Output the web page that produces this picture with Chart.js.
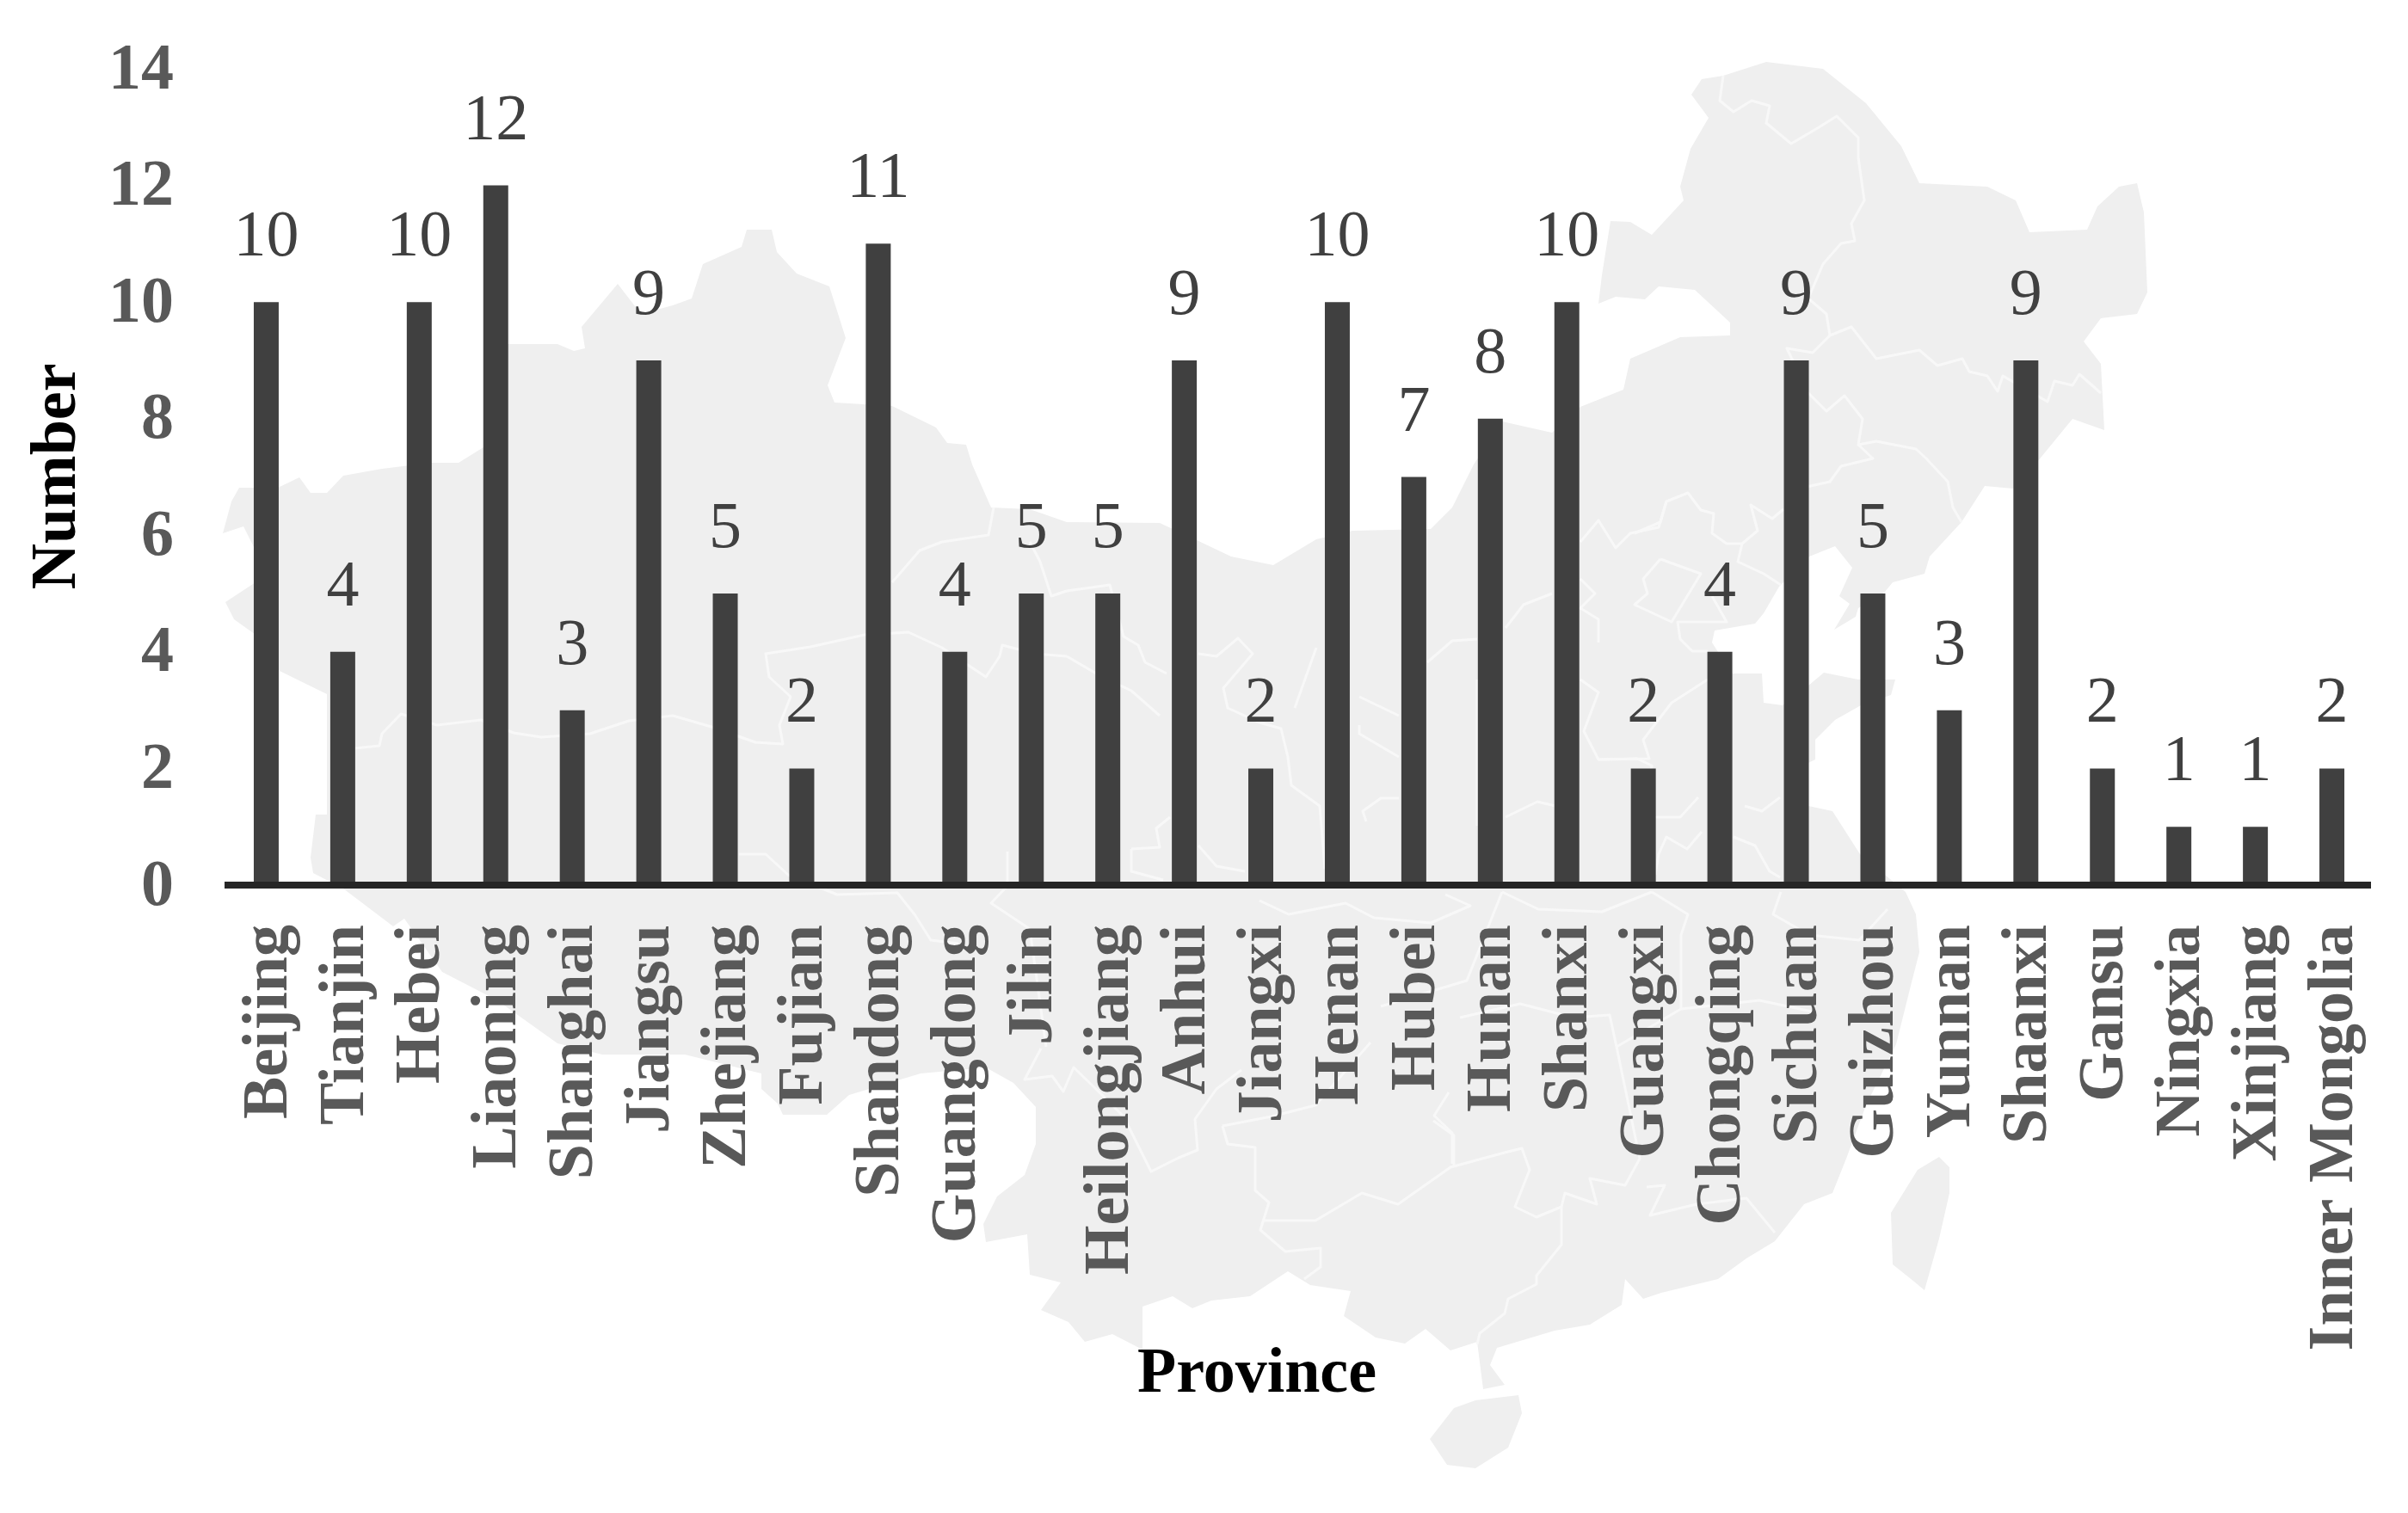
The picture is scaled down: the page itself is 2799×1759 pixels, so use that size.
<!DOCTYPE html>
<html>
<head>
<meta charset="utf-8">
<title>Number by province</title>
<script src="https://cdn.jsdelivr.net/npm/chart.js@4"></script>
<style>
  html, body { margin: 0; padding: 0; background: #fff; }
  canvas { display: block; }
</style>
</head>
<body>
<canvas id="bar-chart" width="2799" height="1759"></canvas>
<script>
// Chart data
var provinces = ["Beijing", "Tianjin", "Hebei", "Liaoning", "Shanghai", "Jiangsu", "Zhejiang", "Fujian",
    "Shandong", "Guangdong", "Jilin", "Heilongjiang", "Anhui", "Jiangxi", "Henan", "Hubei", "Hunan", "Shanxi",
    "Guangxi", "Chongqing", "Sichuan", "Guizhou", "Yunnan", "Shaanxi", "Gansu", "Ningxia", "Xinjiang", "Inner Mongolia"];
var counts = [10, 4, 10, 12, 3, 9, 5, 2, 11, 4, 5, 5, 9, 2, 10, 7, 8, 10, 2, 4, 9, 5, 3, 9, 2, 1, 1, 2];
var yTicks = [0, 2, 4, 6, 8, 10, 12, 14];

// Background map (page pixels), only decoration behind the bars
var mapOutline = [[259,620],[269,583],[278,567],[323,567],[348,555],[361,573],[380,573],[399,553],[444,545],[501,538],[533,538],[562,520],
    [585,400],[648,400],[667,408],[680,405],[676,380],[718,330],[745,365],[782,355],[804,347],[817,307],[862,287],[868,267],[897,267],[903,293],
    [926,318],[964,333],[983,393],[962,448],[970,468],[1037,472],[1088,497],[1101,515],[1123,517],[1130,540],[1152,590],[1197,592],[1240,607],
    [1348,608],[1389,627],[1431,647],[1480,657],[1530,627],[1572,617],[1663,615],[1688,590],[1713,540],[1746,490],[1804,503],[1837,473],
    [1887,453],[1895,417],[1953,392],[2011,390],[2011,375],[1970,337],[1928,333],[1912,348],[1878,345],[1858,353],[1862,320],[1872,257],
    [1895,258],[1920,273],[1957,233],[1953,217],[1965,173],[1986,137],[1966,110],[1978,92],[2003,88],[2053,72],[2119,80],[2169,120],[2210,170],
    [2231,213],[2310,217],[2343,233],[2359,270],[2426,267],[2438,240],[2463,217],[2484,213],[2492,247],[2496,340],[2484,365],[2442,370],
    [2422,397],[2442,423],[2446,500],[2409,487],[2368,537],[2340,568],[2307,565],[2280,607],[2243,647],[2237,667],[2200,677],[2191,688],
    [2160,707],[2157,717],[2132,732],[2150,702],[2138,693],[2153,660],[2133,635],[2103,647],[2068,682],[2050,713],[2040,725],[1993,733],
    [1990,747],[2013,783],[2048,783],[2050,817],[2072,820],[2102,797],[2120,782],[2160,790],[2203,790],[2198,808],[2163,820],[2133,837],
    [2110,860],[2110,883],[2102,887],[2102,937],[2130,943],[2162,993],[2215,1037],[2227,1063],[2231,1107],[2222,1142],[2204,1214],[2169,1285],
    [2146,1347],[2130,1387],[2097,1400],[2063,1443],[2030,1463],[1997,1487],[1931,1503],[1910,1510],[1889,1487],[1885,1517],[1848,1540],
    [1807,1547],[1740,1567],[1732,1587],[1749,1610],[1724,1615],[1717,1560],[1686,1570],[1657,1545],[1633,1562],[1599,1555],[1562,1530],
    [1570,1501],[1523,1494],[1497,1478],[1453,1507],[1408,1512],[1386,1521],[1363,1507],[1328,1519],[1328,1569],[1293,1551],[1261,1560],
    [1242,1537],[1210,1523],[1233,1491],[1197,1482],[1194,1435],[1146,1444],[1143,1423],[1159,1391],[1191,1366],[1204,1330],[1204,1287],
    [1178,1259],[1146,1241],[1070,1248],[987,1273],[961,1296],[910,1296],[904,1283],[885,1266],[885,1248],[796,1226],[700,1226],[648,1213],
    [578,1163],[514,1130],[470,1068],[457,1077],[399,1033],[364,1015],[361,997],[367,947],[380,947],[380,807],[325,780],[300,740],[272,720],
    [262,700],[297,677],[297,640],[283,612]];
var mapTaiwan = [[2254,1345],[2266,1357],[2266,1387],[2254,1440],[2237,1500],[2225,1490],[2200,1470],[2198,1410],[2229,1360]];
var mapHainan = [[1765,1622],[1769,1643],[1753,1683],[1715,1707],[1682,1703],[1662,1673],[1690,1637],[1715,1628]];
var mapBorders = [
    [[2003,88],[1999,117],[2015,130],[2036,117],[2057,123],[2053,143],[2082,167],[2111,150],[2135,135],[2160,160],[2160,183],[2167,233],[2152,260],[2156,280],[2140,283],[2119,307],[2102,347],[2123,365],[2127,390],[2152,380],[2181,417],[2231,407],[2252,425],[2281,417],[2289,432],[2310,437],[2322,455],[2328,437],[2380,467],[2388,443],[2409,448],[2417,435],[2442,457]],
    [[2127,390],[2107,410],[2077,405],[2102,457],[2123,478],[2144,460],[2165,487],[2160,517],[2181,513],[2227,522],[2239,533],[2264,560],[2270,590],[2280,607]],
    [[2160,517],[2177,533],[2140,542],[2127,560],[2100,566]],
    [[1930,650],[1910,673],[1915,690],[1900,703],[1943,723],[1977,667],[1930,650]],
    [[1900,620],[1930,607],[1937,583],[1962,573],[1977,593],[1992,597],[1990,620],[2007,632],[2025,632],[2043,617],[2035,587],[2060,603],[2073,592]],
    [[2025,632],[2020,653],[2050,667],[2070,680]],
    [[1990,693],[2007,723],[1950,723],[1953,743],[1967,757],[1985,757]],
    [[1985,790],[1943,817],[1910,860],[1917,882],[1858,883]],
    [[1240,687],[1290,680],[1306,740],[1323,750],[1331,770],[1356,783]],
    [[1240,763],[1281,787],[1315,803],[1348,832]],
    [[1393,760],[1414,763],[1439,742],[1456,760],[1422,800],[1427,823],[1464,840],[1489,847],[1497,880],[1501,913],[1534,937],[1540,1010]],
    [[1505,823],[1530,753]],
    [[1580,810],[1626,832]],
    [[1580,843],[1580,853],[1626,880]],
    [[1659,770],[1688,745],[1717,743]],
    [[1750,730],[1771,703],[1804,690]],
    [[1837,673],[1854,690],[1837,707],[1858,720],[1858,747]],
    [[1717,790],[1717,960]],
    [[1837,790],[1858,805],[1841,850],[1858,883],[1903,882],[1920,890],[1910,960]],
    [[1837,630],[1858,605],[1878,637],[1895,620],[1928,613],[1937,583]],
    [[1588,955],[1584,943],[1605,928],[1626,928]],
    [[1750,950],[1787,932],[1808,937]],
    [[1315,987],[1348,985],[1344,963],[1360,950]],
    [[1315,987],[1315,1013],[1352,1023]],
    [[1393,983],[1414,1007],[1447,1013]],
    [[1974,927],[1953,950],[1924,950]],
    [[1978,967],[1961,987],[1937,973],[1928,993],[1924,1017]],
    [[2015,973],[2040,983],[2057,1013],[2069,1020]],
    [[2028,937],[2048,943],[2069,927]],
    [[412,870],[441,867],[444,853],[466,830],[508,843],[559,837],[597,852],[629,857],[686,853],[731,838],[782,832],[827,845],[878,863],[910,865],[906,843],[919,810],[894,787],[890,760],[942,752],[1005,738],[1056,735],[1095,753],[1146,787],[1162,763],[1165,750],[1203,760],[1240,763]],
    [[1037,677],[1069,640],[1095,630],[1149,622],[1155,590]],
    [[1197,630],[1209,653],[1222,693],[1240,687]],
    [[859,993],[890,993],[916,1017],[973,1040],[1043,1038],[1063,1063],[1082,1093],[1114,1097]],
    [[1171,990],[1171,1030],[1152,1050],[1197,1080],[1216,1217]],
    [[1210,1219],[1191,1255],[1223,1251],[1236,1269],[1248,1241],[1277,1269],[1306,1298],[1338,1362],[1370,1346],[1392,1337],[1389,1301],[1414,1266],[1443,1244]],
    [[1421,1309],[1478,1298],[1529,1285],[1593,1212]],
    [[1421,1309],[1427,1330],[1459,1334],[1459,1384],[1475,1398],[1465,1430],[1494,1455],[1535,1451],[1535,1473],[1516,1487]],
    [[1468,1419],[1529,1419],[1583,1387],[1625,1400],[1686,1357],[1749,1340],[1769,1335],[1778,1360],[1761,1403],[1786,1415],[1815,1403],[1815,1447],[1786,1483],[1786,1493],[1753,1510],[1749,1527],[1720,1550],[1717,1563]],
    [[1815,1403],[1819,1387],[1856,1400],[1848,1370],[1889,1378],[1906,1347],[1879,1217]],
    [[1914,1380],[1935,1378],[1918,1413],[1972,1400],[2030,1393],[2063,1433]],
    [[1666,1303],[1690,1320],[1690,1357]],
    [[1684,1270],[1667,1297],[1688,1317],[1688,1353]],
    [[1464,1047],[1498,1063],[1564,1050],[1597,1067],[1663,1073],[1709,1053],[1680,1040]],
    [[1605,1170],[1705,1140],[1746,1037]],
    [[1697,1183],[1767,1167],[1829,1183],[1871,1180],[1879,1217]],
    [[1879,1217],[1954,1173],[2045,1163],[2111,1177]],
    [[2070,1037],[2061,1063],[2103,1087],[2161,1093],[2194,1057]],
    [[1746,1037],[1788,1057],[1862,1060],[1920,1037]],
    [[1920,1037],[1962,1063],[1954,1087],[1954,1173]]
];

var serif = "'Liberation Serif', 'Times New Roman', serif";

function tracePath(ctx, pts) {
    ctx.beginPath();
    pts.forEach(function (p, i) {
        if (i === 0) ctx.moveTo(p[0], p[1]);
        else ctx.lineTo(p[0], p[1]);
    });
}

// Draws the pale map first, so everything else sits on top of it
var mapBackground = {
    id: "mapBackground",
    beforeDraw: function (chart) {
        var ctx = chart.ctx;
        ctx.save();
        ctx.fillStyle = "#efefef";
        [mapOutline, mapTaiwan, mapHainan].forEach(function (shape) {
            tracePath(ctx, shape);
            ctx.closePath();
            ctx.fill();
        });
        ctx.strokeStyle = "#f8f8f8";
        ctx.lineWidth = 3;
        ctx.lineJoin = "round";
        mapBorders.forEach(function (line) {
            tracePath(ctx, line);
            ctx.stroke();
        });
        ctx.restore();
    }
};

// Value above each bar
var barValues = {
    id: "barValues",
    afterDatasetsDraw: function (chart) {
        var ctx = chart.ctx;
        ctx.save();
        ctx.font = "76px " + serif;
        ctx.fillStyle = "#404040";
        ctx.textAlign = "center";
        ctx.textBaseline = "alphabetic";
        chart.getDatasetMeta(0).data.forEach(function (bar, i) {
            ctx.fillText(counts[i], bar.x, bar.y - 54);
        });
        ctx.restore();
    }
};

// Axis titles: "Province" is not centred under the plot in the picture
var axisTitles = {
    id: "axisTitles",
    afterDraw: function (chart) {
        var ctx = chart.ctx;
        ctx.save();
        ctx.font = "bold 74px " + serif;
        ctx.fillStyle = "#000000";
        ctx.textAlign = "center";
        ctx.textBaseline = "alphabetic";
        ctx.fillText("Province", 1461, 1618);
        ctx.translate(87, 554);
        ctx.rotate(-Math.PI / 2);
        ctx.fillText("Number", 0, 0);
        ctx.restore();
    }
};

var chartOptions = {
    responsive: false,
    animation: false,
    devicePixelRatio: 1,
    layout: { padding: { top: 80, right: 44, left: 0, bottom: 0 } },
    plugins: {
        legend: { display: false },
        tooltip: { enabled: false }
    },
    scales: {
        x: {
            // labels must not push the plot in, its edges are set by layout.padding
            afterFit: function (scale) {
                scale.height = 730;
                scale.paddingLeft = 0;
                scale.paddingRight = 0;
            },
            grid: { display: false, drawTicks: false },
            border: { display: true, color: "#262626", width: 8, z: 1 },
            ticks: {
                color: "#595959",
                font: { family: serif, size: 74, weight: "bold" },
                minRotation: 90,
                maxRotation: 90,
                autoSkip: false,
                padding: 46,
                labelOffset: 4
            }
        },
        y: {
            min: 0,
            max: 14,
            afterFit: function (scale) {
                scale.width = 265;
                scale.paddingTop = 0;
                scale.paddingBottom = 0;
            },
            afterBuildTicks: function (scale) {
                scale.ticks = yTicks.map(function (v) { return { value: v }; });
            },
            grid: { display: false, drawTicks: false },
            border: { display: false },
            ticks: {
                color: "#595959",
                font: { family: serif, size: 76, weight: "bold" },
                padding: 63,
                labelOffset: 3
            }
        }
    }
};

var chartData = {
    labels: provinces,
    datasets: [{
        label: "Number",
        data: counts,
        backgroundColor: "#404040",
        categoryPercentage: 1,
        barPercentage: 0.326
    }]
};

var barChart = new Chart(document.getElementById("bar-chart"), {
    type: "bar",
    data: chartData,
    options: chartOptions,
    plugins: [mapBackground, barValues, axisTitles]
});
</script>
</body>
</html>
